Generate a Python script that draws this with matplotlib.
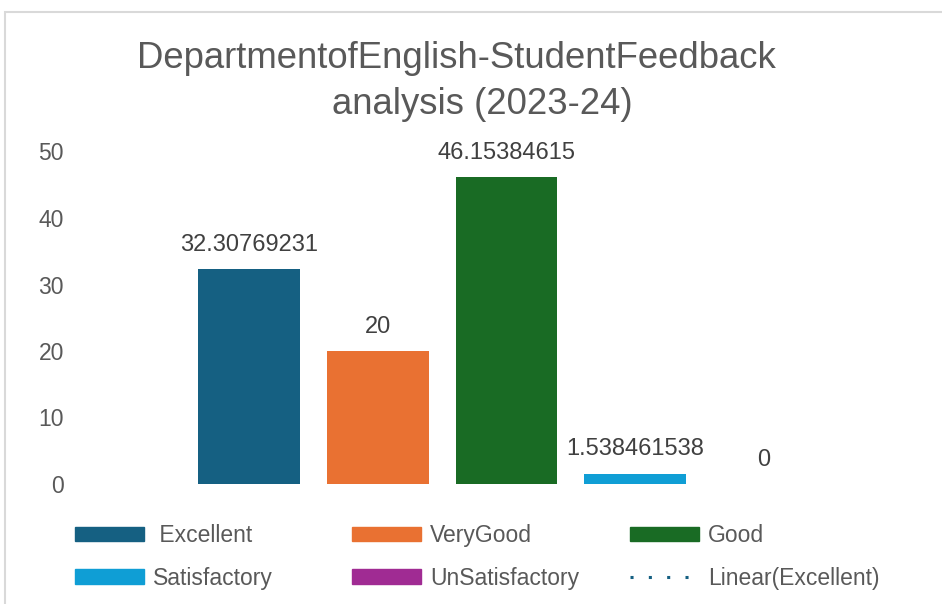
import matplotlib.pyplot as plt
from matplotlib.patches import Patch, Rectangle
from matplotlib.lines import Line2D

plt.rcParams['font.family'] = ['Liberation Sans', 'DejaVu Sans']

# dados
categorias = ["Excellent", "VeryGood", "Good", "Satisfactory", "UnSatisfactory"]
valores = [32.30769231, 20, 46.15384615, 1.538461538, 0]
rotulos = ["32.30769231", "20", "46.15384615", "1.538461538", "0"]
cores = ["#156082", "#E97132", "#196B24", "#0F9ED5", "#A02B93"]
yticks = [0, 10, 20, 30, 40, 50]
titulo = ["DepartmentofEnglish-StudentFeedback", "analysis (2023-24)"]

W, H = 942, 604
fig = plt.figure(figsize=(W / 100, H / 100), dpi=100)

# borda da área do gráfico (cortada à direita e embaixo)
fig.patches.append(Rectangle((5 / W, -0.1), 2, (H - 12) / H + 0.1,
                             transform=fig.transFigure, fill=False,
                             ec="#D9D9D9", lw=1.5))

ax = fig.add_axes([75 / W, (H - 484) / H, 825 / W, (484 - 151.5) / H])
x = list(range(len(valores)))
bars = ax.bar(x, valores, width=0.79, color=cores)
for xi, v, r in zip(x, valores, rotulos):
    ax.annotate(r, xy=(xi, v), xytext=(0, 17.5), textcoords="offset points",
                ha="center", va="center", fontsize=17, color="#404040")

ax.set_xlim(-1.352, 5.058)
ax.set_ylim(0, 50)
ax.set_yticks(yticks)
ax.set_xticks([])
ax.tick_params(axis="y", length=0, pad=8, labelsize=16.5, labelcolor="#595959")
for s in ax.spines.values():
    s.set_visible(False)

# título em duas linhas (a segunda um pouco deslocada, como no original)
fig.text(456.5 / W, 1 - 59 / H, titulo[0], ha="center", va="center",
         fontsize=26.3, color="#595959")
fig.text(482 / W, 1 - 104 / H, titulo[1], ha="center", va="center",
         fontsize=26.3, color="#595959")

# legenda em três colunas
linhas = [
    [Patch(color=cores[0], label=" Excellent"), Patch(color=cores[3], label="Satisfactory")],
    [Patch(color=cores[1], label="VeryGood"), Patch(color=cores[4], label="UnSatisfactory")],
    [Patch(color=cores[2], label="Good"),
     Line2D([], [], color=cores[0], ls=(0, (1, 5)), lw=2.2, label="Linear(Excellent)")],
]
for xpos, hs in zip([75, 352, 630], linhas):
    fig.legend(handles=hs, loc="upper left", bbox_to_anchor=(xpos / W, 1 - 524 / H),
               frameon=False, fontsize=16.5, handlelength=3.0, handleheight=0.6,
               handletextpad=0.4, labelspacing=0.86, borderpad=0, borderaxespad=0,
               labelcolor="#595959")

fig.savefig("out.png", dpi=100)
